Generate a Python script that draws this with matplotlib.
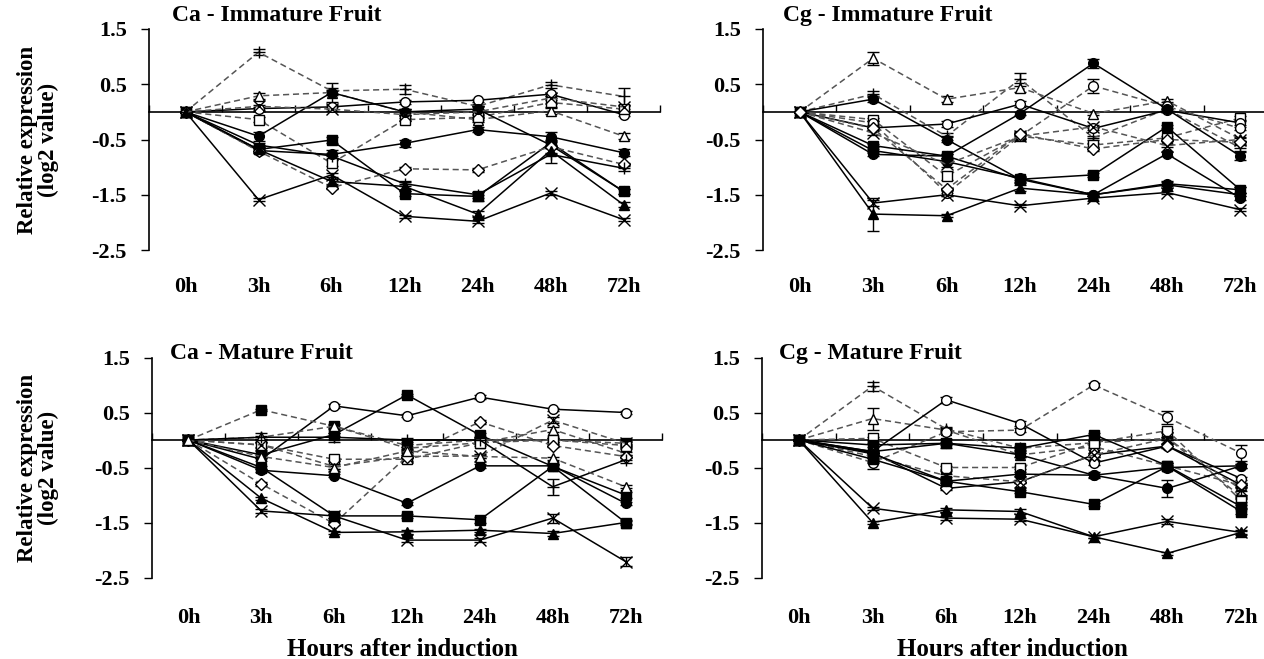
import matplotlib
matplotlib.use("Agg")
import matplotlib.pyplot as plt
import numpy as np

plt.rcParams["font.family"] = ["Liberation Serif", "DejaVu Serif"]
plt.rcParams["font.weight"] = "bold"

hours = ["0h", "3h", "6h", "12h", "24h", "48h", "72h"]
yticks = [1.5, 0.5, -0.5, -1.5, -2.5]

# Each series: (marker, filled, linestyle, values, errors)
ca_immature = [
    ("+", False, "--", [0, 1.08, 0.38, 0.41, 0.10, 0.49, 0.28], [0, 0.05, 0.05, 0.08, 0.05, 0.05, 0.15]),
    ("^", False, "--", [0, 0.29, 0.35, 0.00, -0.14, 0.02, -0.44], [0, 0.05, 0.05, 0.05, 0.05, 0.05, 0.05]),
    ("o", False, "-", [0, 0.06, 0.09, 0.18, 0.21, 0.32, -0.05], [0, 0.03, 0.03, 0.03, 0.03, 0.03, 0.03]),
    ("s", False, "--", [0, -0.14, -0.93, -0.14, -0.10, 0.17, 0.05], [0, 0.05, 0.05, 0.03, 0.05, 0.08, 0.05]),
    ("o", True, "-", [0, -0.44, 0.35, 0.00, 0.05, -0.60, -1.44], [0, 0.08, 0.18, 0.05, 0.05, 0.05, 0.05]),
    ("s", True, "-", [0, -0.68, -0.51, -1.48, -1.53, -0.56, -1.44], [0, 0.05, 0.05, 0.05, 0.08, 0.05, 0.05]),
    ("o", True, "-", [0, -0.70, -0.77, -0.57, -0.32, -0.45, -0.74], [0, 0.05, 0.08, 0.06, 0.05, 0.08, 0.06]),
    ("D", False, "--", [0, -0.71, -1.37, -1.03, -1.05, -0.63, -0.95], [0, 0.03, 0.03, 0.03, 0.03, 0.03, 0.03]),
    ("x", False, "-", [0, -1.59, -1.14, -1.89, -1.98, -1.47, -1.95], [0, 0.03, 0.03, 0.03, 0.03, 0.03, 0.03]),
    ("^", True, "-", [0, -0.68, -1.26, -1.35, -1.85, -0.70, -1.68], [0, 0.03, 0.05, 0.08, 0.05, 0.05, 0.05]),
    ("+", False, "-", [0, -0.60, -0.80, -1.30, -1.50, -0.77, -1.02], [0, 0.03, 0.05, 0.05, 0.05, 0.15, 0.05]),
    ("x", False, "--", [0, 0.10, 0.05, -0.05, 0.00, 0.25, 0.09], [0, 0.03, 0.03, 0.03, 0.03, 0.03, 0.03]),
]

cg_immature = [
    ("^", False, "--", [0, 0.97, 0.23, 0.44, -0.03, 0.20, -0.49], [0, 0.12, 0.06, 0.08, 0.03, 0.03, 0.03]),
    ("+", False, "--", [0, 0.32, -0.44, 0.59, -0.47, 0.05, -0.65], [0, 0.05, 0.06, 0.12, 0.03, 0.05, 0.05]),
    ("o", True, "-", [0, 0.23, -0.50, -1.22, -1.50, -1.30, -1.41], [0, 0.06, 0.05, 0.05, 0.03, 0.05, 0.05]),
    ("s", False, "--", [0, -0.14, -1.16, -0.44, -0.60, -0.47, -0.11], [0, 0.03, 0.08, 0.05, 0.03, 0.03, 0.03]),
    ("o", False, "-", [0, -0.29, -0.22, 0.14, -0.30, 0.03, -0.20], [0, 0.03, 0.05, 0.05, 0.03, 0.03, 0.03]),
    ("o", False, "--", [0, -0.20, -1.47, -0.44, 0.47, 0.10, -0.30], [0, 0.03, 0.05, 0.03, 0.12, 0.03, 0.03]),
    ("s", True, "-", [0, -0.61, -0.80, -1.22, -1.14, -0.27, -1.41], [0, 0.03, 0.03, 0.06, 0.03, 0.03, 0.05]),
    ("o", True, "-", [0, -0.77, -0.80, -0.03, 0.88, 0.05, -0.80], [0, 0.03, 0.03, 0.03, 0.08, 0.05, 0.08]),
    ("o", True, "-", [0, -0.70, -0.90, -1.20, -1.50, -0.76, -1.56], [0, 0.03, 0.03, 0.03, 0.03, 0.03, 0.03]),
    ("x", False, "-", [0, -1.65, -1.50, -1.70, -1.56, -1.46, -1.77], [0, 0.05, 0.03, 0.03, 0.05, 0.03, 0.03]),
    ("^", True, "-", [0, -1.85, -1.88, -1.38, -1.50, -1.32, -1.50], [0, 0.30, 0.03, 0.05, 0.03, 0.05, 0.03]),
    ("x", False, "--", [0, -0.38, -0.95, -0.44, -0.27, -0.61, -0.50], [0, 0.03, 0.05, 0.05, 0.03, 0.03, 0.03]),
    ("D", False, "--", [0, -0.30, -1.40, -0.40, -0.67, -0.50, -0.55], [0, 0.03, 0.03, 0.03, 0.03, 0.03, 0.03]),
]

ca_mature = [
    ("o", False, "-", [0, -0.35, 0.62, 0.44, 0.78, 0.56, 0.50], [0, 0.03, 0.03, 0.03, 0.03, 0.03, 0.03]),
    ("s", True, "-", [0, -0.27, 0.10, 0.82, 0.09, -0.48, -1.00], [0, 0.03, 0.03, 0.02, 0.03, 0.03, 0.05]),
    ("s", True, "--", [0, 0.55, 0.25, -0.10, 0.00, 0.00, -0.06], [0, 0.02, 0.03, 0.03, 0.03, 0.03, 0.03]),
    ("^", False, "--", [0, 0.05, 0.25, -0.15, -0.05, 0.19, -0.24], [0, 0.08, 0.05, 0.03, 0.03, 0.05, 0.03]),
    ("s", False, "--", [0, -0.09, -0.35, -0.35, -0.05, 0.00, -0.10], [0, 0.03, 0.03, 0.03, 0.05, 0.03, 0.03]),
    ("x", False, "--", [0, -0.09, -0.48, -0.30, -0.29, 0.36, -0.06], [0, 0.05, 0.05, 0.03, 0.03, 0.05, 0.05]),
    ("o", True, "-", [0, -0.55, -0.65, -1.15, -0.47, -0.47, -1.15], [0, 0.03, 0.03, 0.03, 0.03, 0.03, 0.03]),
    ("D", False, "--", [0, -0.80, -1.52, -0.30, 0.33, -0.10, -0.30], [0, 0.03, 0.03, 0.03, 0.03, 0.03, 0.03]),
    ("s", True, "-", [0, -0.50, -1.38, -1.38, -1.45, -0.48, -1.50], [0, 0.03, 0.03, 0.03, 0.05, 0.05, 0.05]),
    ("^", True, "-", [0, -1.06, -1.68, -1.67, -1.64, -1.70, -1.50], [0, 0.03, 0.03, 0.03, 0.03, 0.05, 0.03]),
    ("x", False, "-", [0, -1.29, -1.38, -1.82, -1.82, -1.42, -2.21], [0, 0.03, 0.03, 0.03, 0.03, 0.08, 0.08]),
    ("+", False, "-", [0, 0.05, 0.05, 0.00, 0.00, -0.85, -0.36], [0, 0.03, 0.08, 0.03, 0.05, 0.15, 0.06]),
    ("^", False, "--", [0, -0.30, -0.50, -0.20, -0.30, -0.33, -0.85], [0, 0.03, 0.03, 0.03, 0.03, 0.03, 0.03]),
]

cg_mature = [
    ("+", False, "--", [0, 0.98, 0.20, -0.15, -0.05, 0.03, -1.03], [0, 0.08, 0.03, 0.03, 0.03, 0.03, 0.03]),
    ("^", False, "--", [0, 0.39, 0.18, -0.27, -0.12, -0.47, -0.82], [0, 0.20, 0.03, 0.03, 0.03, 0.05, 0.03]),
    ("o", False, "--", [0, -0.41, 0.15, 0.18, 1.00, 0.41, -0.24], [0, 0.12, 0.03, 0.03, 0.03, 0.12, 0.15]),
    ("o", False, "-", [0, -0.21, 0.73, 0.30, -0.42, -0.11, -0.70], [0, 0.03, 0.06, 0.05, 0.03, 0.03, 0.03]),
    ("s", False, "--", [0, 0.03, -0.50, -0.50, -0.05, 0.17, -1.10], [0, 0.03, 0.03, 0.03, 0.03, 0.03, 0.03]),
    ("s", True, "-", [0, -0.09, -0.06, -0.15, 0.10, -0.47, -1.21], [0, 0.03, 0.08, 0.05, 0.03, 0.05, 0.03]),
    ("o", True, "-", [0, -0.21, -0.06, -0.27, -0.64, -0.50, -0.47], [0, 0.03, 0.03, 0.03, 0.05, 0.03, 0.03]),
    ("D", False, "-", [0, -0.23, -0.88, -0.76, -0.27, -0.11, -0.82], [0, 0.03, 0.03, 0.03, 0.03, 0.03, 0.03]),
    ("x", False, "--", [0, -0.30, -0.65, -0.76, -0.27, 0.03, -0.90], [0, 0.03, 0.03, 0.03, 0.03, 0.03, 0.03]),
    ("s", True, "-", [0, -0.35, -0.75, -0.94, -1.17, -0.48, -1.30], [0, 0.03, 0.03, 0.03, 0.03, 0.03, 0.05]),
    ("o", True, "-", [0, -0.25, -0.75, -0.62, -0.64, -0.88, -0.47], [0, 0.03, 0.03, 0.03, 0.03, 0.15, 0.03]),
    ("x", False, "-", [0, -1.24, -1.42, -1.44, -1.76, -1.48, -1.68], [0, 0.03, 0.03, 0.03, 0.03, 0.05, 0.05]),
    ("^", True, "-", [0, -1.50, -1.27, -1.30, -1.76, -2.06, -1.68], [0, 0.03, 0.03, 0.05, 0.03, 0.03, 0.03]),
]

# (title, series, axes rect, tick-label pad, title x, title y, y label?, x label?)
panels = [
    ("Ca - Immature Fruit", ca_immature, [149 / 1264, 1 - 250 / 659, 511 / 1264, 221 / 659], 19.5, 0.045, 1.063, True, False),
    ("Cg - Immature Fruit", cg_immature, [763 / 1264, 1 - 250 / 659, 514 / 1264, 221 / 659], 19.5, 0.038, 1.063, False, False),
    ("Ca - Mature Fruit", ca_mature, [152 / 1264, 1 - 577.5 / 659, 510 / 1264, 220 / 659], 22, 0.035, 1.016, True, True),
    ("Cg - Mature Fruit", cg_mature, [762 / 1264, 1 - 577.5 / 659, 516 / 1264, 220 / 659], 22, 0.033, 1.016, False, True),
]

fig = plt.figure(figsize=(12.64, 6.59), dpi=100)
x = np.arange(len(hours))

for title, series, rect, label_pad, tx, ty, show_ylabel, show_xlabel in panels:
    ax = fig.add_axes(rect)
    ax.set_xlim(-0.5, len(hours) - 0.5)
    ax.set_ylim(-2.5, 1.5)
    ax.patch.set_alpha(0)

    for marker, filled, ls, vals, errs in series:
        lc = "black" if ls == "-" else "#555555"
        face = "black" if filled else "white"
        ms = 6 if marker == "D" else 7
        if marker in ("x", "+"):
            ms = 8
        ax.errorbar(x, vals, yerr=errs, color=lc, ecolor="black", elinewidth=1.0,
                    capsize=4, capthick=1.0, linestyle=ls, linewidth=1.1,
                    dashes=(4, 2.5) if ls == "--" else (None, None),
                    marker=marker, markersize=ms, markerfacecolor=face,
                    markeredgecolor="black", markeredgewidth=1.0, zorder=3)

    # category axis crossing at zero, with tick marks between categories
    for s in ("top", "right"):
        ax.spines[s].set_visible(False)
    ax.spines["bottom"].set_position(("data", 0))
    ax.spines["bottom"].set_linewidth(1.2)
    ax.spines["left"].set_linewidth(1.2)
    ax.set_xticks(np.arange(-0.5, len(hours), 1.0))
    ax.set_xticklabels([])
    ax.tick_params(axis="x", direction="in", length=5, width=1.0)
    ax.set_yticks(yticks)
    ax.set_yticklabels([f"{v:.1f}" for v in yticks])
    ax.tick_params(axis="y", direction="out", length=6, width=1.0, labelsize=16, pad=10)

    sec = ax.secondary_xaxis(0)
    sec.set_xticks(x)
    sec.set_xticklabels(hours, fontsize=16, fontweight="bold")
    sec.tick_params(length=0, pad=label_pad)
    sec.spines["bottom"].set_visible(False)

    ax.text(tx, ty, title, transform=ax.transAxes,
            fontsize=17, fontweight="bold", va="center", ha="left")

    if show_ylabel:
        fig.text(38 / 1264, rect[1] + rect[3] * 0.5, "Relative expression\n(log2 value)",
                 rotation=90, ha="center", va="center", fontsize=16.5,
                 fontweight="bold", linespacing=1.05)
    if show_xlabel:
        fig.text(rect[0] + 250 / 1264, 1 - 650 / 659, "Hours after induction",
                 ha="center", va="center", fontsize=18, fontweight="bold")

fig.savefig("out.png", dpi=100)
